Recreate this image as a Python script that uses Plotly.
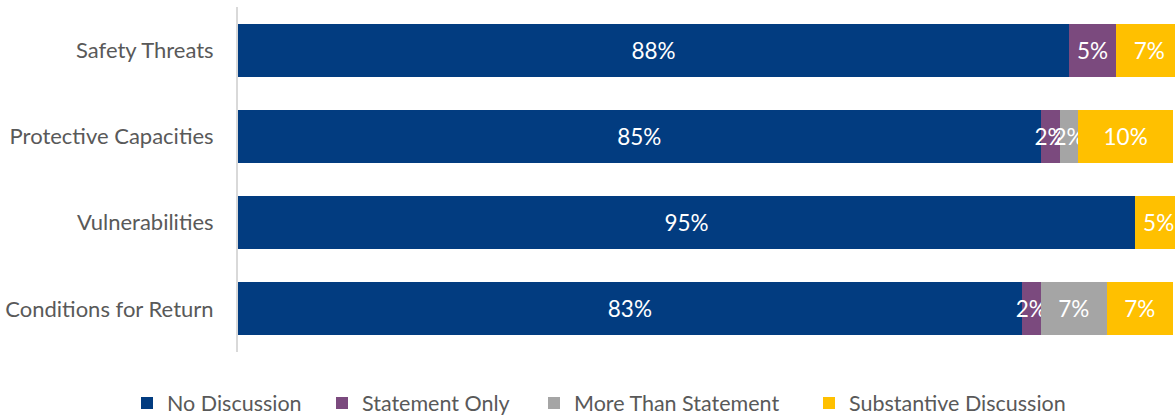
import plotly.graph_objects as go

categories = ["Safety Threats", "Protective Capacities", "Vulnerabilities", "Conditions for Return"]
series_names = ["No Discussion", "Statement Only", "More Than Statement", "Substantive Discussion"]
no_discussion = [88, 85, 95, 83]
statement_only = [5, 2, 0, 2]
more_than_statement = [0, 2, 0, 7]
substantive = [7, 10, 5, 7]

series_values = [no_discussion, statement_only, more_than_statement, substantive]
colors = ["#023C80", "#7B4A7E", "#A5A5A5", "#FFC000"]

# one legend per series so each entry can sit at its own spot along the bottom row
legend_ids = ["legend", "legend2", "legend3", "legend4"]
legend_x_px = [127, 322, 534, 809]

FONT = "Lato"
W, H = 1175, 415

fig = go.Figure()
for name, vals, col, lg in zip(series_names, series_values, colors, legend_ids):
    fig.add_trace(go.Bar(
        name=name,
        y=categories,
        x=vals,
        orientation="h",
        legend=lg,
        marker=dict(color=col, line=dict(width=0)),
        text=[f"{v}%" if v else "" for v in vals],
        textposition="inside",
        insidetextanchor="middle",
        textangle=0,
        constraintext="none",
        textfont=dict(color="white", size=22.5, family=FONT),
        hoverinfo="skip",
    ))

legend_style = dict(orientation="h", xref="container", yref="container",
                    xanchor="left", yanchor="middle", y=1 - 403 / H,
                    font=dict(size=21.5, color="#595959", family=FONT),
                    bgcolor="rgba(0,0,0,0)", itemwidth=30)

layout_legends = {lg: dict(legend_style, x=px / W) for lg, px in zip(legend_ids, legend_x_px)}

fig.update_layout(
    barmode="stack",
    bargap=0.386,
    width=W,
    height=H,
    margin=dict(l=238, r=0, t=7, b=63),
    paper_bgcolor="white",
    plot_bgcolor="white",
    font=dict(family=FONT, color="#595959", size=20),
    xaxis=dict(range=[0, 99.23], showgrid=False, zeroline=False,
               showticklabels=False, showline=False, fixedrange=True),
    yaxis=dict(autorange="reversed", showline=True, linecolor="#D9D9D9",
               linewidth=2, ticks="", showgrid=False,
               tickfont=dict(size=22, color="#595959", family=FONT),
               ticklabelstandoff=18),
    showlegend=True,
    **layout_legends,
)

fig.write_html("out.html")
